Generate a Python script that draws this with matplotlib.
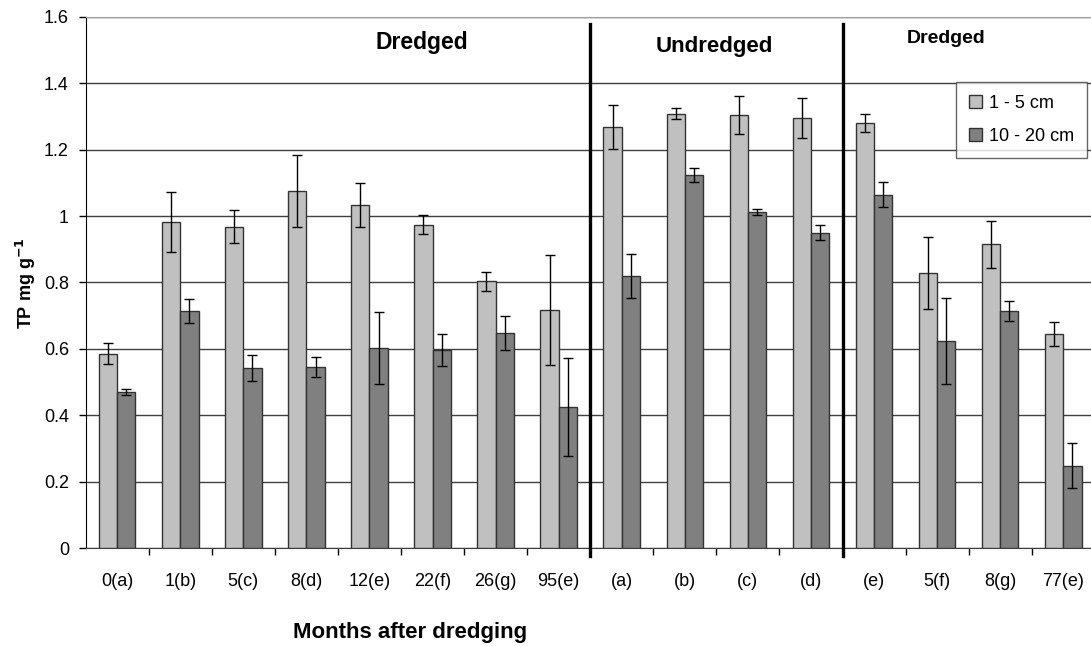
import matplotlib.pyplot as plt
import numpy as np

plt.rcParams['font.family'] = ['Liberation Sans', 'DejaVu Sans']

# TP content of sediment per site, two depth layers
labels = ['0(a)', '1(b)', '5(c)', '8(d)', '12(e)', '22(f)', '26(g)', '95(e)',
          '(a)', '(b)', '(c)', '(d)',
          '(e)', '5(f)', '8(g)', '77(e)']
top_layer = [0.585, 0.982, 0.968, 1.076, 1.033, 0.974, 0.804, 0.717,
             1.269, 1.309, 1.305, 1.295,
             1.280, 0.829, 0.915, 0.645]
top_err = [0.032, 0.090, 0.050, 0.108, 0.067, 0.028, 0.029, 0.167,
           0.066, 0.017, 0.058, 0.061,
           0.028, 0.108, 0.071, 0.035]
deep_layer = [0.470, 0.714, 0.543, 0.546, 0.603, 0.597, 0.648, 0.425,
              0.820, 1.125, 1.012, 0.950,
              1.065, 0.624, 0.714, 0.248]
deep_err = [0.010, 0.037, 0.039, 0.030, 0.108, 0.048, 0.051, 0.149,
            0.066, 0.021, 0.010, 0.023,
            0.037, 0.129, 0.031, 0.068]

fig = plt.figure(figsize=(10.91, 6.46), dpi=100)
ax = fig.add_axes([0.0785, 0.1517, 0.925, 0.822])

x = np.arange(len(labels))
w = 0.29
err_kw = dict(ecolor='black', elinewidth=1, capsize=3.5, capthick=1)
ax.bar(x - w / 2, top_layer, w, yerr=top_err, color='#c0c0c0',
       edgecolor='#333333', linewidth=1, label='1 - 5 cm', error_kw=err_kw, zorder=3)
ax.bar(x + w / 2, deep_layer, w, yerr=deep_err, color='#808080',
       edgecolor='#333333', linewidth=1, label='10 - 20 cm', error_kw=err_kw, zorder=3)

ax.set_xlim(-0.5, len(labels) - 0.5)
ax.set_ylim(0, 1.6)
yt = np.arange(0, 1.61, 0.2)
ax.set_yticks(yt)
ax.set_yticklabels(['%g' % round(v, 1) for v in yt], fontsize=13)
ax.set_xticks(x)
ax.set_xticklabels(labels, fontsize=13)
ax.set_xticks(np.arange(0.5, len(labels) - 1, 1), minor=True)
ax.tick_params(axis='x', which='major', length=0, pad=18)
ax.tick_params(axis='x', which='minor', length=5, width=1, direction='out')
ax.tick_params(axis='y', length=5, width=1, direction='out', pad=7)

ax.yaxis.grid(True, color='#404040', linewidth=1)
ax.set_axisbelow(True)
ax.spines['right'].set_visible(False)
ax.spines['top'].set_color('#a0a0a0')
ax.spines['left'].set_color('black')
ax.spines['bottom'].set_color('#404040')

# separators between site groups
for xs in (7.5, 11.5):
    ax.plot([xs, xs], [-0.025, 1.58], color='black', linewidth=2.4,
            clip_on=False, zorder=4)

ax.text(4.83, 1.524, 'Dredged', fontsize=16.5, fontweight='bold', ha='center', va='center')
ax.text(9.46, 1.512, 'Undredged', fontsize=16, fontweight='bold', ha='center', va='center')
ax.text(13.15, 1.536, 'Dredged', fontsize=14, fontweight='bold', ha='center', va='center')

leg = ax.legend(loc='upper right', bbox_to_anchor=(0.996, 0.873),
                bbox_transform=fig.transFigure, fontsize=13,
                frameon=True, fancybox=False, edgecolor='#404040',
                handlelength=0.7, handleheight=0.7, handletextpad=0.4,
                labelspacing=0.9, borderpad=0.7, borderaxespad=0)
leg.get_frame().set_linewidth(1)

fig.text(0.024, 0.562, 'TP mg g$^{\\mathbf{-1}}$', rotation=90, fontsize=13,
         fontweight='bold', ha='center', va='center')
fig.text(0.376, 0.021, 'Months after dredging', fontsize=16, fontweight='bold',
         ha='center', va='center')

fig.savefig('out.png', dpi=100)
